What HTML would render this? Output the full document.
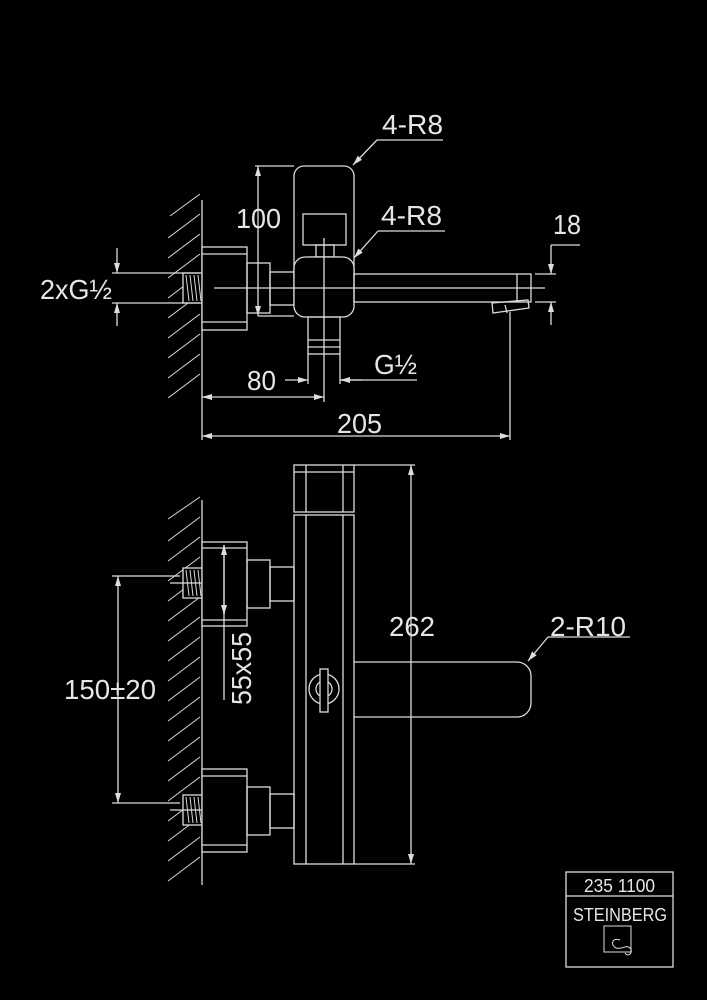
<!DOCTYPE html>
<html><head><style>
html,body{margin:0;padding:0;background:#000;}
svg{display:block}
text{font-family:"Liberation Sans",sans-serif;fill:#e6e6e6}
</style></head><body>
<svg width="707" height="1000" viewBox="0 0 707 1000" xmlns="http://www.w3.org/2000/svg">
<defs>
<marker id="a" viewBox="0 0 10 6" refX="10" refY="3" markerWidth="10" markerHeight="6" orient="auto-start-reverse" markerUnits="userSpaceOnUse"><path d="M0,0L10,3L0,6z" fill="#ddd"/></marker>
</defs>
<g stroke="#dcdcdc" stroke-width="1.3" fill="none">
<line x1="202" y1="200" x2="202" y2="400"/>
<g stroke-width="1">
<line x1="170" y1="216" x2="200" y2="194"/><line x1="168" y1="238" x2="200" y2="214"/><line x1="168" y1="258" x2="200" y2="234"/><line x1="168" y1="278" x2="200" y2="254"/><line x1="168" y1="298" x2="200" y2="274"/><line x1="168" y1="318" x2="200" y2="294"/><line x1="168" y1="338" x2="200" y2="314"/><line x1="168" y1="358" x2="200" y2="334"/><line x1="168" y1="378" x2="200" y2="354"/><line x1="168" y1="398" x2="200" y2="374"/>
</g>
<rect x="183" y="273" width="19" height="30" fill="#000"/>
<path d="M186,275l3,26M190,275l3,26M194,275l3,26M198,275l3,26" stroke-width="1"/>
<rect x="202" y="247" width="45" height="83" fill="#000"/>
<line x1="202" y1="254" x2="247" y2="254"/><line x1="202" y1="322" x2="247" y2="322"/>
<rect x="247" y="263" width="23" height="50"/>
<rect x="270" y="272" width="24" height="33"/>
<rect x="294" y="166" width="60" height="120" rx="10"/>
<rect x="303" y="214" width="43" height="31"/>
<rect x="316" y="245" width="18" height="12"/>
<line x1="310" y1="257" x2="340" y2="257"/>
<rect x="294" y="257" width="60" height="60" rx="11" fill="#000"/>
<rect x="308" y="317" width="32" height="37"/>
<line x1="308" y1="340" x2="340" y2="340"/><line x1="308" y1="347" x2="340" y2="347"/>
<line x1="324" y1="238" x2="324" y2="402"/>
<rect x="354" y="274" width="177" height="28"/>
<line x1="214" y1="288" x2="545" y2="288"/>
<line x1="517" y1="274" x2="517" y2="302"/>
<path d="M492,303l36,-3l1,8l-36,5z"/><line x1="505" y1="305" x2="507" y2="313"/>
<line x1="255" y1="166" x2="294" y2="166"/>
<line x1="258" y1="166" x2="258" y2="316" marker-start="url(#a)" marker-end="url(#a)"/>
<line x1="258" y1="316" x2="294" y2="316"/>
<line x1="308" y1="354" x2="308" y2="384"/><line x1="340" y1="354" x2="340" y2="384"/>
<line x1="285" y1="380" x2="308" y2="380" marker-end="url(#a)"/>
<line x1="362" y1="380" x2="340" y2="380" marker-end="url(#a)"/>
<line x1="340" y1="380" x2="417" y2="380"/>
<line x1="202" y1="397" x2="324" y2="397" marker-start="url(#a)" marker-end="url(#a)"/>
<line x1="202" y1="400" x2="202" y2="440"/>
<line x1="510" y1="312" x2="510" y2="440"/>
<line x1="202" y1="436" x2="510" y2="436" marker-start="url(#a)" marker-end="url(#a)"/>
<line x1="535" y1="274" x2="556" y2="274"/><line x1="535" y1="302" x2="556" y2="302"/>
<line x1="551" y1="245" x2="551" y2="274" marker-end="url(#a)"/>
<line x1="551" y1="325" x2="551" y2="302" marker-end="url(#a)"/>
<line x1="551" y1="245" x2="580" y2="245"/>
<line x1="443" y1="140" x2="377" y2="140"/>
<line x1="377" y1="140" x2="353" y2="165" marker-end="url(#a)"/>
<line x1="445" y1="231" x2="378" y2="231"/>
<line x1="378" y1="231" x2="354" y2="258" marker-end="url(#a)"/>
<line x1="112" y1="273" x2="200" y2="273"/><line x1="112" y1="303" x2="200" y2="303"/>
<line x1="117" y1="248" x2="117" y2="273" marker-end="url(#a)"/>
<line x1="117" y1="326" x2="117" y2="303" marker-end="url(#a)"/>

<line x1="202" y1="500" x2="202" y2="885"/>
<g stroke-width="1">
<line x1="168" y1="519" x2="200" y2="497"/><line x1="168" y1="541" x2="200" y2="517"/><line x1="168" y1="561" x2="200" y2="537"/><line x1="168" y1="581" x2="200" y2="557"/><line x1="168" y1="601" x2="200" y2="577"/><line x1="168" y1="621" x2="200" y2="597"/><line x1="168" y1="641" x2="200" y2="617"/><line x1="168" y1="661" x2="200" y2="637"/><line x1="168" y1="681" x2="200" y2="657"/><line x1="168" y1="701" x2="200" y2="677"/><line x1="168" y1="721" x2="200" y2="697"/><line x1="168" y1="741" x2="200" y2="717"/><line x1="168" y1="761" x2="200" y2="737"/><line x1="168" y1="781" x2="200" y2="757"/><line x1="168" y1="801" x2="200" y2="777"/><line x1="168" y1="821" x2="200" y2="797"/><line x1="168" y1="841" x2="200" y2="817"/><line x1="168" y1="861" x2="200" y2="837"/><line x1="168" y1="881" x2="200" y2="857"/>
</g>
<rect x="183" y="568" width="19" height="30" fill="#000"/>
<path d="M186,570l3,26M190,570l3,26M194,570l3,26M198,570l3,26" stroke-width="1"/>
<rect x="183" y="795" width="19" height="30" fill="#000"/>
<path d="M186,797l3,26M190,797l3,26M194,797l3,26M198,797l3,26" stroke-width="1"/>
<line x1="170" y1="583" x2="202" y2="583"/><line x1="170" y1="810" x2="202" y2="810"/>
<rect x="202" y="542" width="45" height="84" fill="#000"/>
<line x1="202" y1="548" x2="247" y2="548"/><line x1="202" y1="620" x2="247" y2="620"/>
<rect x="247" y="560" width="23" height="48"/>
<rect x="270" y="567" width="24" height="34"/>
<rect x="202" y="769" width="45" height="83" fill="#000"/>
<line x1="202" y1="776" x2="247" y2="776"/><line x1="202" y1="845" x2="247" y2="845"/>
<rect x="247" y="787" width="23" height="48"/>
<rect x="270" y="794" width="24" height="34"/>
<rect x="294" y="465" width="60" height="47"/>
<line x1="306" y1="465" x2="306" y2="512"/><line x1="343" y1="465" x2="343" y2="512"/>
<line x1="294" y1="472" x2="354" y2="472"/>
<rect x="294" y="515" width="60" height="349"/>
<line x1="306" y1="515" x2="306" y2="864"/><line x1="343" y1="515" x2="343" y2="864"/>
<path d="M354,662H517a14,14 0 0 1 14,14V703a14,14 0 0 1 -14,14H354"/>
<circle cx="324" cy="689" r="15" fill="#000"/><circle cx="324" cy="689" r="8"/>
<rect x="320" y="669" width="8" height="43" fill="#000"/>
<line x1="224" y1="545" x2="224" y2="700" marker-start="url(#a)"/>
<line x1="224" y1="545" x2="224" y2="615" marker-end="url(#a)"/>
<line x1="354" y1="465" x2="415" y2="465"/><line x1="354" y1="864" x2="415" y2="864"/>
<line x1="411" y1="465" x2="411" y2="864" marker-start="url(#a)" marker-end="url(#a)"/>
<line x1="630" y1="637" x2="548" y2="637"/>
<line x1="548" y1="637" x2="528" y2="661" marker-end="url(#a)"/>
<line x1="112" y1="576" x2="180" y2="576"/><line x1="112" y1="803" x2="180" y2="803"/>
<line x1="118" y1="576" x2="118" y2="803" marker-start="url(#a)" marker-end="url(#a)"/>

<rect x="566" y="872" width="107" height="95"/>
<line x1="566" y1="896" x2="673" y2="896"/>
<rect x="604" y="926" width="27" height="26" stroke-width="1"/>
<path d="M620,940c-8,-3 -10,5 -4,8c6,2 10,-4 14,0c4,4 -2,10 -5,5" stroke-width="1"/>
</g>
<g font-size="28" lengthAdjust="spacingAndGlyphs">
<text x="382" y="134" textLength="61" lengthAdjust="spacingAndGlyphs">4-R8</text>
<text x="381" y="225" textLength="61" lengthAdjust="spacingAndGlyphs">4-R8</text>
<text x="236" y="228" textLength="45" lengthAdjust="spacingAndGlyphs">100</text>
<text x="553" y="234" textLength="28" lengthAdjust="spacingAndGlyphs">18</text>
<text x="40" y="299" textLength="72" lengthAdjust="spacingAndGlyphs">2xG½</text>
<text x="374" y="374" textLength="43" lengthAdjust="spacingAndGlyphs">G½</text>
<text x="247" y="390" textLength="29" lengthAdjust="spacingAndGlyphs">80</text>
<text x="337" y="433" textLength="45" lengthAdjust="spacingAndGlyphs">205</text>
<text x="389" y="636" textLength="46" lengthAdjust="spacingAndGlyphs">262</text>
<text x="550" y="636" textLength="76" lengthAdjust="spacingAndGlyphs">2-R10</text>
<text x="64" y="699" textLength="92" lengthAdjust="spacingAndGlyphs">150±20</text>
<text transform="translate(251,705) rotate(-90)" textLength="73" lengthAdjust="spacingAndGlyphs">55x55</text>
</g>
<text x="584" y="892" font-size="18" textLength="71" lengthAdjust="spacingAndGlyphs">235 1100</text>
<text x="573" y="921" font-size="18" textLength="94" lengthAdjust="spacingAndGlyphs">STEINBERG</text>
</svg>
</body></html>
